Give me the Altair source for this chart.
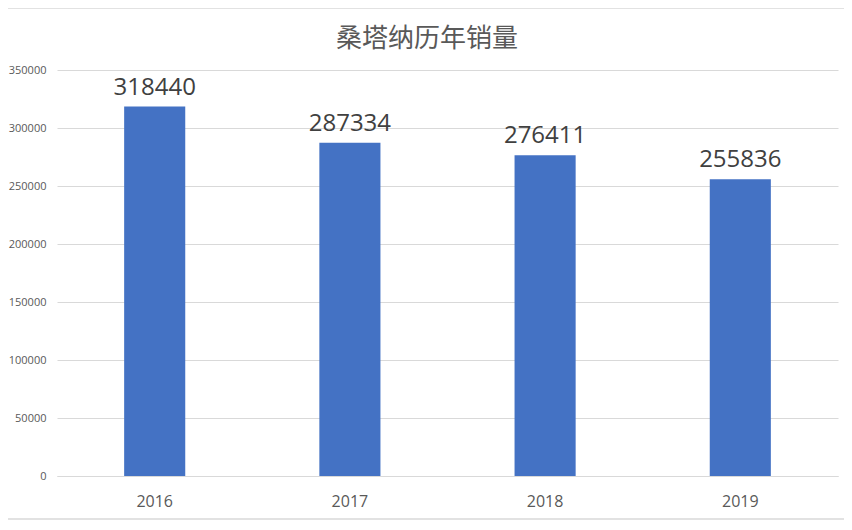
import altair as alt
import pandas as pd

years = ["2016", "2017", "2018", "2019"]
sales = [318440, 287334, 276411, 255836]
title_text = "桑塔纳历年销量"

df = pd.DataFrame({"year": years, "sales": sales})
title_df = pd.DataFrame({"t": [title_text]})
frame_df = pd.DataFrame({"k": [0]})

GRAY = "#d9d9d9"
TXT = "#595959"

x_enc = alt.X(
    "year:N", title=None, sort=years,
    scale=alt.Scale(paddingInner=0.687, paddingOuter=0.344),
    axis=alt.Axis(labelAngle=0, labelFontSize=16, labelColor=TXT, labelFont="Open Sans",
                  labelPadding=17, ticks=False, domainColor=GRAY, domainWidth=1, grid=False),
)
y_enc = alt.Y(
    "sales:Q", title=None,
    scale=alt.Scale(domain=[0, 350000], nice=False),
    axis=alt.Axis(values=[0, 50000, 100000, 150000, 200000, 250000, 300000, 350000],
                  format="d", labelFontSize=11, labelColor=TXT, labelFont="Open Sans",
                  labelPadding=11, ticks=False, domain=False, gridColor=GRAY, gridWidth=1),
)

bars = alt.Chart(df).mark_bar(color="#4472C4").encode(x=x_enc, y=y_enc)
labels = alt.Chart(df).mark_text(dy=-12, baseline="alphabetic", fontSize=24,
                                 font="Open Sans", color="#404040").encode(
    x=alt.X("year:N", sort=years), y="sales:Q", text=alt.Text("sales:Q", format="d"))

title = alt.Chart(title_df).mark_text(fontSize=26, font="Noto Sans CJK SC", color=TXT,
                                      baseline="alphabetic", align="center").encode(
    x=alt.value(370), y=alt.value(-23), text="t:N")

frame = alt.Chart(frame_df).mark_rect(fillOpacity=0, stroke=GRAY, strokeWidth=1.5).encode(
    x=alt.value(-55), x2=alt.value(803), y=alt.value(-62), y2=alt.value(449))

chart = alt.layer(frame, bars, labels, title).properties(
    width=781, height=406,
    padding={"left": 49, "top": 62, "right": 6, "bottom": 44},
    autosize="none",
    background="white",
).configure_view(stroke=None)

chart.save("out.html", embed_options={"renderer": "svg", "actions": False})
